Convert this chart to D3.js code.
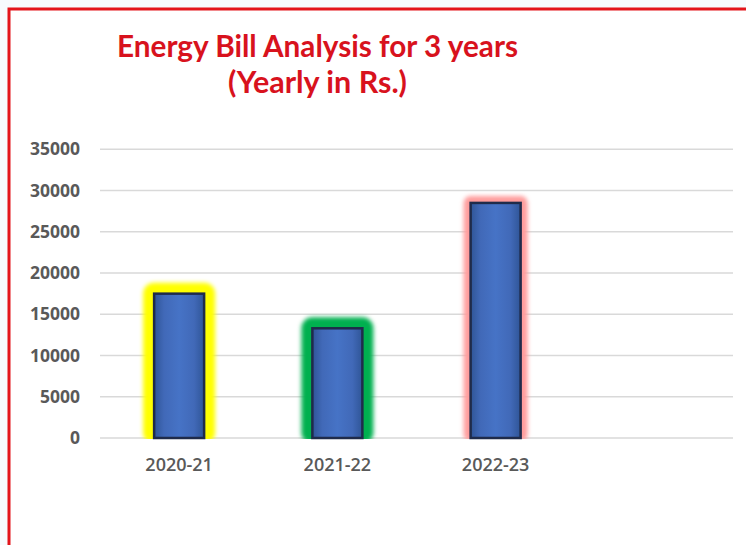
<!DOCTYPE html>
<html>
<head>
<meta charset="utf-8">
<script src="https://cdn.jsdelivr.net/npm/d3@7"></script>
<style>
  html, body { margin: 0; padding: 0; background: #ffffff; }
  svg { display: block; }
</style>
</head>
<body>
<svg id="chart" width="746" height="545"></svg>
<script>
// ---- data ----
const categories = ["2020-21", "2021-22", "2022-23"];
const values = [17500, 13300, 28500];
const glowColors = ["#ffff00", "#00b050", "#ff9c9c"];
const glowWidths = [22, 22, 14];
const yTicks = [0, 5000, 10000, 15000, 20000, 25000, 30000, 35000];
const titleLines = ["Energy Bill Analysis for 3 years", "(Yearly in Rs.)"];

(function () {
const W = 746, H = 545;
const svg = d3.select("#chart");

// frame
svg.append("rect").attr("x", 0).attr("y", 0).attr("width", W).attr("height", H).attr("fill", "#f7fbfd");
svg.append("rect").attr("x", 9).attr("y", 9).attr("width", W + 20).attr("height", H + 20)
  .attr("fill", "#ffffff").attr("stroke", "#e3151b").attr("stroke-width", 3);

// defs
const defs = svg.append("defs");
const blur = defs.append("filter").attr("id", "glow").attr("x", "-50%").attr("y", "-50%").attr("width", "200%").attr("height", "200%");
blur.append("feGaussianBlur").attr("stdDeviation", 2);
const grad = defs.append("linearGradient").attr("id", "barGrad").attr("x1", "0").attr("x2", "1").attr("y1", "0").attr("y2", "0");
grad.append("stop").attr("offset", "0%").attr("stop-color", "#2f5597");
grad.append("stop").attr("offset", "20%").attr("stop-color", "#4169b8");
grad.append("stop").attr("offset", "50%").attr("stop-color", "#4673c6");
grad.append("stop").attr("offset", "80%").attr("stop-color", "#4169b8");
grad.append("stop").attr("offset", "100%").attr("stop-color", "#2f5597");

// title
const title = svg.append("g").attr("fill", "#d8121d")
  .style("font-family", "Lato, 'Open Sans', sans-serif").style("font-weight", 700).style("font-size", "29.5px");
title.append("text").attr("x", 117).attr("y", 57).attr("textLength", 401).attr("lengthAdjust", "spacingAndGlyphs").text(titleLines[0]);
title.append("text").attr("x", 228).attr("y", 93).attr("textLength", 179).attr("lengthAdjust", "spacingAndGlyphs").text(titleLines[1]);

// scales
const pLeft = 100, pRight = 733, pTop = 149.3, pBottom = 438;
const x = d3.scaleBand().domain([...categories, "__empty__"]).range([pLeft, pRight]).padding(0);
const y = d3.scaleLinear().domain([0, 35000]).range([pBottom, pTop]);
const barW = x.bandwidth() * 0.316;

// gridlines
svg.append("g").selectAll("line").data(yTicks).join("line")
  .attr("x1", pLeft).attr("x2", pRight)
  .attr("y1", d => y(d)).attr("y2", d => y(d))
  .attr("stroke", "#d9d9d9").attr("stroke-width", 1.5);

// y axis labels
const yAxis = svg.append("g").attr("transform", `translate(${pLeft},0)`)
  .call(d3.axisLeft(y).tickValues(yTicks).tickSize(0).tickPadding(20).tickFormat(d3.format("d")));
yAxis.select(".domain").remove();
yAxis.selectAll("text").attr("fill", "#595959")
  .style("font-family", "'Open Sans', sans-serif").style("font-weight", 700).style("font-size", "17.5px");

// x axis labels
const xAxis = svg.append("g").attr("transform", `translate(0,${pBottom})`)
  .call(d3.axisBottom(x).tickSize(0).tickPadding(20).tickFormat(d => d === "__empty__" ? "" : d));
xAxis.select(".domain").remove();
xAxis.selectAll("text").attr("fill", "#595959")
  .style("font-family", "'Open Sans', sans-serif").style("font-weight", 600).style("font-size", "18px");

// bars
const data = categories.map((c, i) => ({ c, v: values[i], glow: glowColors[i], gw: glowWidths[i] }));
const bars = svg.append("g");
bars.selectAll("rect.glow").data(data).join("rect").attr("class", "glow")
  .attr("x", d => x(d.c) + x.bandwidth() / 2 - barW / 2)
  .attr("y", d => y(d.v))
  .attr("width", barW)
  .attr("height", d => pBottom - y(d.v) - d.gw / 4)
  .attr("fill", d => d.glow)
  .attr("stroke", d => d.glow).attr("stroke-width", d => d.gw)
  .attr("stroke-linejoin", "round")
  .attr("filter", "url(#glow)");
// cover glow below baseline
bars.append("rect").attr("x", pLeft).attr("y", pBottom + 1).attr("width", pRight - pLeft).attr("height", 14).attr("fill", "#ffffff");
bars.selectAll("rect.bar").data(data).join("rect").attr("class", "bar")
  .attr("x", d => x(d.c) + x.bandwidth() / 2 - barW / 2)
  .attr("y", d => y(d.v))
  .attr("width", barW)
  .attr("height", d => pBottom - y(d.v))
  .attr("fill", "url(#barGrad)")
  .attr("stroke", "#1f2b4a").attr("stroke-width", 2.5);
})();
</script>
</body>
</html>
